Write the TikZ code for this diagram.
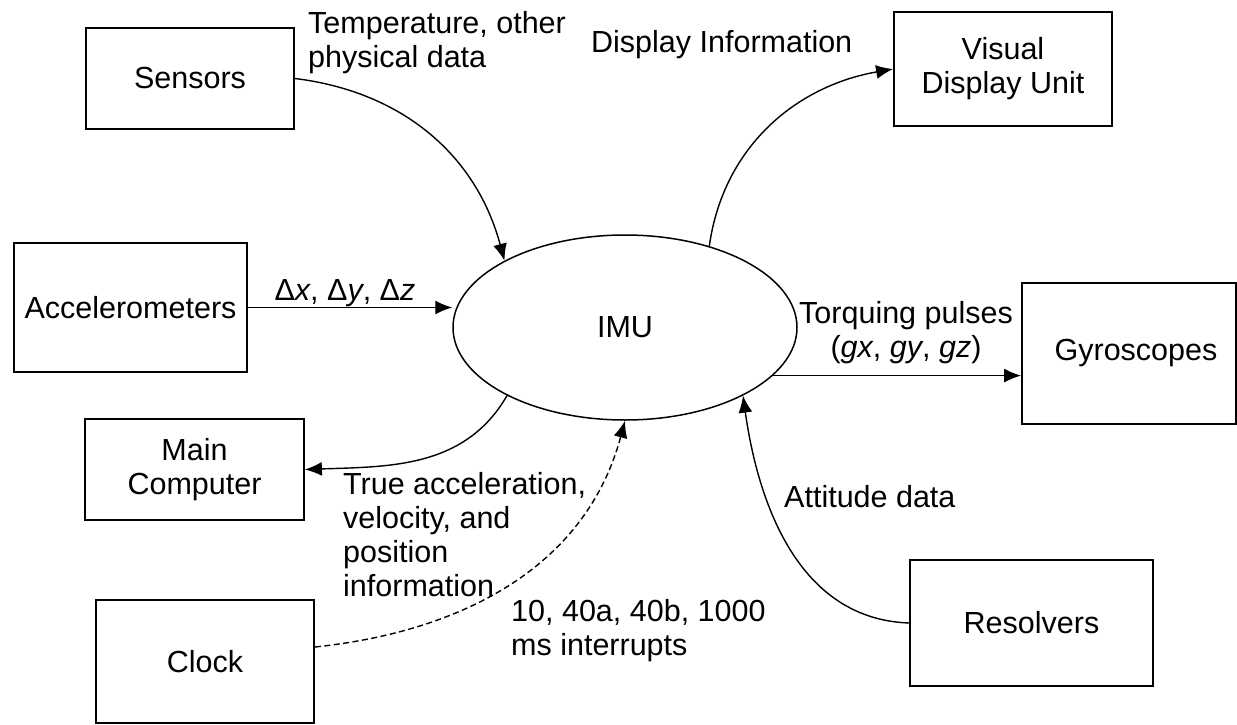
\documentclass[tikz,border=0pt]{standalone}
\usepackage{fontspec}
\setmainfont{Liberation Sans}
\usetikzlibrary{arrows.meta,shapes.geometric}
\begin{document}
\begin{tikzpicture}[x=1pt,y=-1pt,
  every node/.style={font=\fontsize{30.5}{34}\selectfont},
  box/.style={draw,line width=1.8pt,inner sep=0pt,align=center},
  lbl/.style={inner sep=0pt,align=left},
  conn/.style={line width=1.4pt,-{Latex[length=17pt,width=14pt]}},
  dconn/.style={conn,dashed,dash pattern=on 6pt off 3.5pt}]
\useasboundingbox (0,0) rectangle (1237,725);
% boxes
\node[box,minimum width=208pt,minimum height=101pt] (sensors) at (190,78.5) {Sensors};
\node[box,minimum width=218pt,minimum height=114pt] (vdu) at (1003,69) {Visual\\Display Unit};
\node[box,minimum width=233pt,minimum height=129pt] (acc) at (130.5,307.5) {Accelerometers};
\node[box,minimum width=219pt,minimum height=101pt] (main) at (194.5,469.5) {Main\\Computer};
\node[box,minimum width=218pt,minimum height=123pt] (clock) at (205,661.5) {Clock};
\node[box,minimum width=243pt,minimum height=126pt] (res) at (1031.5,623) {Resolvers};
\node[box,minimum width=214pt,minimum height=141pt] (gyro) at (1129,353.5) {\hspace*{14pt}Gyroscopes};
\node[draw,ellipse,line width=1.5pt,minimum width=344pt,minimum height=185pt,inner sep=0pt] (imu) at (625,327.5) {IMU};
% labels
\node[lbl,anchor=west] (tlab) at (308,43) {Temperature, other\\physical data};
\node[lbl,anchor=west] (dlab) at (591,45) {Display Information};
\node[lbl] (dxlab) at (345,293) {Δ\textit{x}, Δ\textit{y}, Δ\textit{z}};
\node[lbl,align=center] (tqlab) at (906,333) {Torquing pulses\\(\textit{gx}, \textit{gy}, \textit{gz})};
\node[lbl,anchor=west] (alab) at (784,497) {Attitude data};
\node[lbl,anchor=west] (vlab) at (343,535) {True acceleration,\\velocity, and\\position\\information};
\node[lbl,anchor=west] (ilab) at (511,631) {10, 40a, 40b, 1000\\ms interrupts};
% connectors
\draw[conn] (sensors.east) to[out=-7,in=105] (imu.151);
\draw[conn] (imu.44) to[out=82,in=190] (vdu.west);
\draw[conn] (acc.east) -- (acc.east -| imu.west);
\draw[conn] (imu.210) to[out=-120,in=2] (main.east);
\draw[dconn] ([yshift=14.5pt]clock.east) to[out=6,in=-105] (imu.south);
\draw[conn] (res.west) to[out=178,in=-82] (imu.-30);
\draw[conn] (imu.-18) -- (imu.-18 -| gyro.west);
\end{tikzpicture}
\end{document}
